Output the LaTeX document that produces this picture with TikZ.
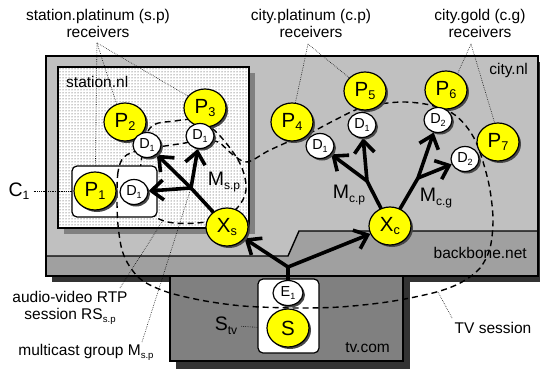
\documentclass[tikz,border=0pt]{standalone}
\usepackage{fontspec}
\setmainfont{Liberation Sans}
\usepackage{graphicx}
\usetikzlibrary{shapes.geometric,arrows.meta,patterns,shadows}
\definecolor{lgray}{RGB}{192,192,192}
\definecolor{bbgray}{RGB}{160,160,160}
\definecolor{tvgray}{RGB}{128,128,128}
\definecolor{dshadow}{RGB}{51,51,51}
\definecolor{yel}{RGB}{255,255,0}
\newcommand\lsub[1]{\raisebox{-0.35ex}{\scalebox{0.62}{#1}}}
\pgfdeclarelayer{bg}
\pgfdeclarelayer{lone}
\pgfdeclarelayer{ltwo}
\pgfdeclarelayer{lthree}
\pgfsetlayers{bg,lone,ltwo,lthree,main}
\begin{document}
\begin{tikzpicture}[x=1pt,y=-1pt,
  lab/.style={font=\fontsize{15.5}{17}\selectfont, inner sep=0pt},
  big/.style={font=\fontsize{19.5}{21}\selectfont, inner sep=0pt},
  nshadow/.style={general shadow={fill=black!72, shadow xshift=2pt, shadow yshift=-2pt}},
  pnode/.style={ellipse, draw=black, line width=1.2pt, fill=yel, minimum width=42pt, minimum height=38pt, inner sep=0pt, font=\fontsize{20.5}{22}\selectfont, nshadow},
  dnode/.style={ellipse, draw=black, line width=1.2pt, fill=white, minimum width=28pt, minimum height=25pt, inner sep=0pt, font=\fontsize{14.5}{15}\selectfont, nshadow},
  tree/.style={line width=3.6pt, line cap=round},
  arr/.style={line width=3.6pt, -{Straight Barb[length=12pt,width=20pt]}},
  lead/.style={line width=0.6pt, dash pattern=on 0.6pt off 1.2pt},
  sess/.style={line width=1.4pt, dash pattern=on 6pt off 4pt},
  box/.style={draw=black, line width=1.4pt},
  rbox/.style={draw=black, line width=1.2pt, fill=white, rounded corners=5pt},
]
\useasboundingbox (0,0) rectangle (540,369);

% ---------- backgrounds ----------
\begin{pgfonlayer}{bg}
  \fill[white] (0,0) rectangle (540,369);
  \fill[dshadow] (52,62) rectangle (540,282);
  \fill[lgray] (46,56) rectangle (538,276);
  \fill[bbgray] (46,256) -- (288,256) -- (299,231) -- (538,231) -- (538,276) -- (46,276) -- cycle;
  \draw[box] (46,256) -- (288,256) -- (299,231) -- (538,231);
  \draw[box] (46,56) rectangle (538,276);
  \fill[black!50] (64,73) rectangle (255,234);
  \fill[white] (58,67) rectangle (249,228);
  \fill[pattern=dots, pattern color=black!85] (58,67) rectangle (249,228);
  \draw[box] (58,67) rectangle (249,228);
  \fill[dshadow] (176,282) rectangle (410,369);
  \draw[box, fill=tvgray] (170,276) rectangle (403,361);
\end{pgfonlayer}

% ---------- nodes ----------
\node[pnode] (P1) at (95,191) {P\lsub{1}};
\node[dnode] (D1a) at (134,192) {D\lsub{1}};
\node[pnode] (P2) at (125,122) {P\lsub{2}};
\node[dnode] (D1b) at (147,145) {D\lsub{1}};
\node[pnode] (P3) at (205,108) {P\lsub{3}};
\node[dnode] (D1c) at (200,136) {D\lsub{1}};
\node[pnode] (P4) at (292,122) {P\lsub{4}};
\node[dnode] (D1d) at (320,146) {D\lsub{1}};
\node[pnode] (P5) at (365,91) {P\lsub{5}};
\node[dnode] (D1e) at (362,125) {D\lsub{1}};
\node[pnode] (P6) at (446,90) {P\lsub{6}};
\node[dnode] (D2f) at (438,120) {D\lsub{2}};
\node[pnode] (P7) at (498,142) {P\lsub{7}};
\node[dnode] (D2g) at (465,159) {D\lsub{2}};
\node[pnode] (Xs) at (227,227) {X\lsub{s}};
\node[pnode] (Xc) at (390,226) {X\lsub{c}};
\node[dnode, minimum width=30pt] (E1) at (288,293) {E\lsub{1}};
\node[pnode] (S) at (288,328) {S};

% ---------- labels ----------
\node[lab, align=center] (tsp) at (98,23.5) {station.platinum (s.p)\\receivers};
\node[lab, align=center] (tcp) at (311,23.5) {city.platinum (c.p)\\receivers};
\node[lab, align=center] (tcg) at (480,23.5) {city.gold (c.g)\\receivers};
\node[lab, anchor=west] (stnl) at (66,82) {station.nl};
\node[lab, anchor=east] (ctnl) at (528,70) {city.nl};
\node[lab, anchor=east] (bbn) at (527,253) {backbone.net};
\node[lab, anchor=east] (tvc) at (390,348) {tv.com};
\node[big] (C1) at (19,191) {C\lsub{1}};
\node[big] (Stv) at (226,326) {S\lsub{tv}};
\node[big] (Msp) at (224,182) {M\lsub{s.p}};
\node[big] (Mcp) at (349,195) {M\lsub{c.p}};
\node[big] (Mcg) at (436,198) {M\lsub{c.g}};
\node[lab, align=center] (rtp) at (70,308) {audio-video RTP\\session RS\lsub{s.p}};
\node[lab] (mcg) at (86,352) {multicast group M\lsub{s.p}};
\node[lab] (tvs) at (493,328) {TV session};

% ---------- junctions and leader ends ----------
\coordinate (J0) at (288,267);
\coordinate (Js) at (191,188);
\coordinate (Jcp) at (367,181);
\coordinate (Jcg) at (418,178);
\coordinate (sa) at (97,43);
\coordinate (ca) at (308,44);
\coordinate (ga) at (471,44);
\coordinate (rtpst) at (120,288);
\coordinate (rtpend) at (162,222);
\coordinate (mcst) at (142,342);
\coordinate (tvst) at (452,318);
\coordinate (tvend) at (438,292);

% ---------- leaders and RS curve ----------
\begin{pgfonlayer}{lone}
  \draw[lead] (sa) -- (P1.89);
  \draw[lead] (sa) -- (P2.115);
  \draw[lead] (sa) -- (P3.145);
  \draw[lead] (ca) -- (P4.80);
  \draw[lead] (ca) -- (P5.140);
  \draw[lead] (ga) -- (P6.55);
  \draw[lead] (ga) -- (P7.100);
  \draw[lead, shorten <=4pt] (C1.east) -- (P1.west);
  \draw[lead, shorten <=4pt] (Stv.east) -- (S.west);
  \draw[lead] (rtpst) -- (rtpend);
  \draw[lead] (mcst) -- (Js);
  \draw[lead] (tvst) -- (tvend);
  \draw[sess] plot[smooth cycle, tension=0.6] coordinates {
    (150,128) (175,121) (198,120) (214,130) (230,148) (242,168) (246,190)
    (238,207) (222,218) (197,223) (168,222) (150,212) (142,188) (141,163)};
\end{pgfonlayer}

% ---------- white boxes ----------
\begin{pgfonlayer}{ltwo}
  \draw[rbox] (72,166) rectangle (157,217);
  \draw[rbox] (258,279) rectangle (319,353);
\end{pgfonlayer}

% ---------- TV session and distribution trees ----------
\begin{pgfonlayer}{lthree}
  \draw[sess] plot[smooth cycle, tension=0.55] coordinates {
    (124,157) (118,172) (117,200) (118,225) (122,250) (130,267) (143,281)
    (167,292) (200,300) (233,305) (260,307) (300,308) (340,307) (380,303)
    (410,298) (440,291) (462,282) (480,268) (490,248) (493,220) (490,190)
    (484,165) (476,142) (466,126) (452,113) (430,105) (405,102) (380,104)
    (358,109) (335,120) (310,133) (290,141) (268,151) (247,162) (232,154)
    (218,142) (200,140) (185,143) (165,146) (140,150)};
  \draw[tree] (E1.north) -- (J0);
  \draw[arr] (J0) -- (Xs);
  \draw[arr] (J0) -- (Xc);
  \draw[tree] (Xs) -- (Js);
  \draw[arr] (Js) -- (D1a);
  \draw[arr] (Js) -- (D1b);
  \draw[arr] (Js) -- (D1c);
  \draw[tree] (Xc) -- (Jcp);
  \draw[tree] (Xc) -- (Jcg);
  \draw[arr] (Jcp) -- (D1d);
  \draw[arr] (Jcp) -- (D1e);
  \draw[arr] (Jcg) -- (D2f);
  \draw[arr] (Jcg) -- (D2g);
\end{pgfonlayer}
\end{tikzpicture}
\end{document}
